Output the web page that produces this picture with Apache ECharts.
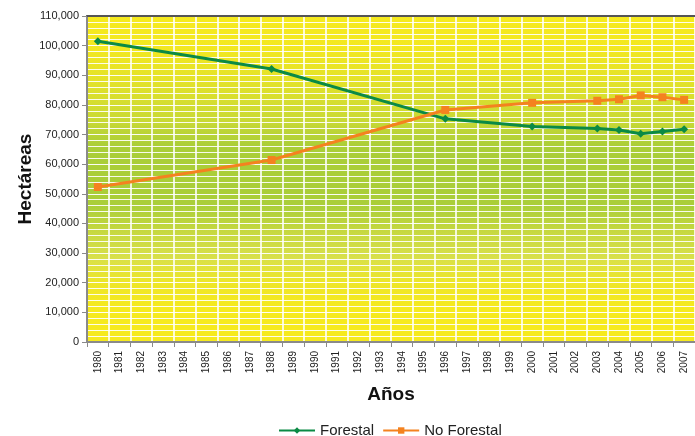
<!DOCTYPE html>
<html><head><meta charset="utf-8">
<script src="https://cdn.jsdelivr.net/npm/echarts@6/dist/echarts.min.js"></script>
<style>html,body{margin:0;padding:0;background:#fff}#c{width:695px;height:436px}</style>
</head><body><div id="c"></div>
<script>
var years = ['1980','1981','1982','1983','1984','1985','1986','1987','1988','1989','1990','1991','1992','1993','1994','1995','1996','1997','1998','1999','2000','2001','2002','2003','2004','2005','2006','2007'];
var forestal = [101500,null,null,null,null,null,null,null,92100,null,null,null,null,null,null,null,75300,null,null,null,72700,null,null,72000,71500,70300,71000,71800];
var noForestal = [52300,null,null,null,null,null,null,null,61400,null,null,null,null,null,null,null,78300,null,null,null,80700,null,null,81400,81900,83200,82600,81700];
var yTicks = {min:0, max:110000, interval:10000};
var seriesNames = ['Forestal','No Forestal'];

var font = 'Liberation Sans, Arial, sans-serif';
var chart = echarts.init(document.getElementById('c'));
chart.setOption({
  animation:false,
  grid:{left:87, right:-2, top:16, bottom:94, show:true, borderWidth:0,
    backgroundColor:{type:'linear',x:0,y:0,x2:0,y2:1,colorStops:[
      {offset:0,color:'#F6EA1E'},{offset:0.09,color:'#F3E820'},
      {offset:0.2,color:'#E3E22A'},{offset:0.32,color:'#C9D935'},
      {offset:0.4,color:'#AACE38'},{offset:0.58,color:'#AACE38'},
      {offset:0.66,color:'#C6D840'},{offset:0.74,color:'#D8E04A'},
      {offset:0.82,color:'#EEE628'},{offset:0.9,color:'#F6EA1E'},{offset:1,color:'#F6EA1E'}]}},
  legend:{bottom:-7, left:273, itemWidth:36, itemHeight:8, itemGap:8,
    textStyle:{fontFamily:font, fontSize:15, color:'#222'}, data:seriesNames},
  xAxis:[{type:'category', data:years, boundaryGap:true,
    name:'Años', nameLocation:'middle', nameGap:43, nameMoveOverlap:false,
    nameTextStyle:{fontFamily:font, fontSize:19, fontWeight:'bold', color:'#111'},
    axisLine:{lineStyle:{color:'#8a8a8a', width:2}},
    axisTick:{show:true, alignWithLabel:false, length:5, lineStyle:{color:'#8a8a8a'}},
    axisLabel:{rotate:90, fontFamily:font, fontSize:10, color:'#222', margin:9, interval:0},
    splitLine:{show:true, interval:0, lineStyle:{color:'rgba(255,255,255,0.8)', width:2}}},
   {type:'category', data:years, position:'top', boundaryGap:true,
    axisLine:{show:true, lineStyle:{color:'#555', width:2}}, axisTick:{show:false}, axisLabel:{show:false}, splitLine:{show:false}}],
  yAxis:{type:'value', min:yTicks.min, max:yTicks.max, interval:yTicks.interval,
    name:'Hectáreas', nameLocation:'middle', nameGap:52, nameMoveOverlap:false,
    nameTextStyle:{fontFamily:font, fontSize:19, fontWeight:'bold', color:'#111'},
    axisLine:{show:true, lineStyle:{color:'#8a8a8a', width:2}},
    axisTick:{show:true, length:5, lineStyle:{color:'#8a8a8a'}},
    axisLabel:{fontFamily:font, fontSize:11, color:'#222', margin:8,
      formatter:function(v){return v.toLocaleString('en-US');}},
    splitLine:{show:true, lineStyle:{color:'rgba(255,255,255,0.95)', width:1}},
    minorTick:{show:false, splitNumber:5},
    minorSplitLine:{show:true, lineStyle:{color:'rgba(255,255,255,0.9)', width:1}}},
  series:[
    {name:'Forestal', type:'line', data:forestal, connectNulls:true,
     symbol:'diamond', symbolSize:8, itemStyle:{color:'#0B8A45'},
     lineStyle:{color:'#0B8A45', width:3}},
    {name:'No Forestal', type:'line', data:noForestal, connectNulls:true,
     symbol:'rect', symbolSize:8, itemStyle:{color:'#F4821F'},
     lineStyle:{color:'#F4821F', width:3}}
  ]
});
</script></body></html>
